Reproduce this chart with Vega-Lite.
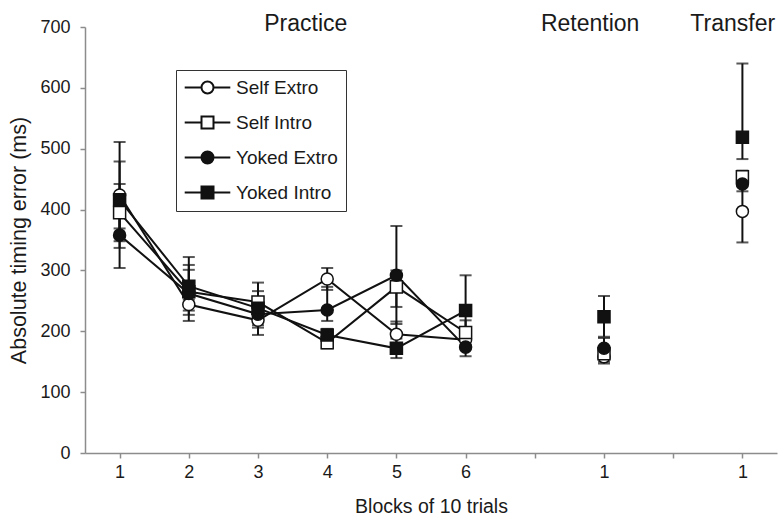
{
  "$schema": "https://vega.github.io/schema/vega-lite/v6.json",
  "autosize": "none",
  "width": 692,
  "height": 426,
  "padding": {"left": 85, "top": 27, "right": 2, "bottom": 63},
  "background": "white",
  "config": {
    "view": {"stroke": null},
    "font": "Liberation Sans",
    "axis": {
      "domainColor": "#8c8c8c",
      "domainWidth": 1.5,
      "tickColor": "#8c8c8c",
      "tickWidth": 1.5,
      "tickSize": 5,
      "grid": false,
      "labelFont": "Liberation Sans",
      "labelFontSize": 18,
      "labelColor": "#1a1a1a",
      "titleFont": "Liberation Sans",
      "titleFontWeight": "normal",
      "titleColor": "#1a1a1a"
    }
  },
  "datasets": {
    "points": [
      {"series": "Self Extro", "x": 1, "mean": 424, "lo": 369, "hi": 479},
      {"series": "Self Extro", "x": 2, "mean": 244, "lo": 217, "hi": 271},
      {"series": "Self Extro", "x": 3, "mean": 218, "lo": 194, "hi": 242},
      {"series": "Self Extro", "x": 4, "mean": 286, "lo": 268, "hi": 304},
      {"series": "Self Extro", "x": 5, "mean": 195, "lo": 175, "hi": 216},
      {"series": "Self Extro", "x": 6, "mean": 186, "lo": 172, "hi": 200},
      {"series": "Self Extro", "x": 8, "mean": 158, "lo": 147, "hi": 169},
      {"series": "Self Extro", "x": 10, "mean": 397, "lo": 346, "hi": 448},
      {"series": "Self Intro", "x": 1, "mean": 395, "lo": 348, "hi": 442},
      {"series": "Self Intro", "x": 2, "mean": 265, "lo": 234, "hi": 309},
      {"series": "Self Intro", "x": 3, "mean": 248, "lo": 216, "hi": 280},
      {"series": "Self Intro", "x": 4, "mean": 181, "lo": 172, "hi": 192},
      {"series": "Self Intro", "x": 5, "mean": 273, "lo": 240, "hi": 300},
      {"series": "Self Intro", "x": 6, "mean": 198, "lo": 178, "hi": 218},
      {"series": "Self Intro", "x": 8, "mean": 163, "lo": 150, "hi": 176},
      {"series": "Self Intro", "x": 10, "mean": 454, "lo": 444, "hi": 464},
      {"series": "Yoked Extro", "x": 1, "mean": 358, "lo": 304, "hi": 412},
      {"series": "Yoked Extro", "x": 2, "mean": 262, "lo": 227, "hi": 301},
      {"series": "Yoked Extro", "x": 3, "mean": 228, "lo": 206, "hi": 250},
      {"series": "Yoked Extro", "x": 4, "mean": 235, "lo": 217, "hi": 273},
      {"series": "Yoked Extro", "x": 5, "mean": 292, "lo": 212, "hi": 373},
      {"series": "Yoked Extro", "x": 6, "mean": 174, "lo": 159, "hi": 189},
      {"series": "Yoked Extro", "x": 8, "mean": 172, "lo": 155, "hi": 189},
      {"series": "Yoked Extro", "x": 10, "mean": 442, "lo": 430, "hi": 454},
      {"series": "Yoked Intro", "x": 1, "mean": 416, "lo": 337, "hi": 511},
      {"series": "Yoked Intro", "x": 2, "mean": 274, "lo": 252, "hi": 322},
      {"series": "Yoked Intro", "x": 3, "mean": 238, "lo": 210, "hi": 266},
      {"series": "Yoked Intro", "x": 4, "mean": 194, "lo": 184, "hi": 204},
      {"series": "Yoked Intro", "x": 5, "mean": 172, "lo": 156, "hi": 188},
      {"series": "Yoked Intro", "x": 6, "mean": 234, "lo": 176, "hi": 292},
      {"series": "Yoked Intro", "x": 8, "mean": 224, "lo": 191, "hi": 258},
      {"series": "Yoked Intro", "x": 10, "mean": 519, "lo": 483, "hi": 640}
    ],
    "headers": [
      {"label": "Practice", "x": 3.69},
      {"label": "Retention", "x": 7.8},
      {"label": "Transfer", "x": 9.86}
    ]
  },
  "data": {"name": "points"},
  "layer": [
    {
      "transform": [{"filter": "datum.x <= 6"}],
      "mark": {"type": "line", "color": "#111", "strokeWidth": 2},
      "encoding": {
        "x": {
          "field": "x", "type": "quantitative",
          "scale": {"domain": [0.5, 10.5], "nice": false, "zero": false},
          "axis": {
            "values": [1, 2, 3, 4, 5, 6, 7, 8, 9, 10],
            "format": "d",
            "labelExpr": "datum.value <= 6 ? datum.label : (datum.value == 8 || datum.value == 10 ? '1' : '')",
            "title": "Blocks of 10 trials",
            "titleFontSize": 19.5,
            "labelPadding": 5,
            "titlePadding": 16
          }
        },
        "y": {
          "field": "mean", "type": "quantitative",
          "scale": {"domain": [0, 700], "nice": false},
          "axis": {
            "values": [0, 100, 200, 300, 400, 500, 600, 700],
            "title": "Absolute timing error (ms)",
            "titleFontSize": 21.5,
            "labelPadding": 10,
            "titlePadding": 9
          }
        },
        "detail": {"field": "series"}
      }
    },
    {
      "mark": {"type": "rule", "color": "#111", "strokeWidth": 2},
      "encoding": {
        "x": {"field": "x", "type": "quantitative"},
        "y": {"field": "lo", "type": "quantitative"},
        "y2": {"field": "hi"}
      }
    },
    {
      "mark": {"type": "tick", "orient": "horizontal", "color": "#111", "size": 12, "thickness": 2},
      "encoding": {
        "x": {"field": "x", "type": "quantitative"},
        "y": {"field": "lo", "type": "quantitative"}
      }
    },
    {
      "mark": {"type": "tick", "orient": "horizontal", "color": "#111", "size": 12, "thickness": 2},
      "encoding": {
        "x": {"field": "x", "type": "quantitative"},
        "y": {"field": "hi", "type": "quantitative"}
      }
    },
    {
      "mark": {"type": "point", "filled": true, "stroke": "#111", "strokeWidth": 1.5, "size": 145, "opacity": 1},
      "encoding": {
        "x": {"field": "x", "type": "quantitative"},
        "y": {"field": "mean", "type": "quantitative"},
        "shape": {
          "field": "series", "type": "nominal",
          "scale": {"domain": ["Self Extro", "Self Intro", "Yoked Extro", "Yoked Intro"], "range": ["circle", "square", "circle", "square"]},
          "legend": null
        },
        "fill": {
          "field": "series", "type": "nominal",
          "scale": {"domain": ["Self Extro", "Self Intro", "Yoked Extro", "Yoked Intro"], "range": ["white", "white", "#111", "#111"]},
          "legend": null
        }
      }
    },
    {
      "transform": [{"filter": "false"}],
      "mark": {"type": "point", "filled": true, "strokeWidth": 2, "size": 144, "opacity": 1},
      "encoding": {
        "x": {"field": "x", "type": "quantitative"},
        "y": {"field": "mean", "type": "quantitative"},
        "shape": {
          "field": "series", "type": "nominal",
          "scale": {
            "domain": ["Self Extro", "Self Intro", "Yoked Extro", "Yoked Intro"],
            "range": [
              "M-3.8,0H-1M1,0H3.8M-1,0A1,1 0 1,0 1,0A1,1 0 1,0 -1,0Z",
              "M-3.8,0H-1M1,0H3.8M-1,-1H1V1H-1Z",
              "M-3.8,0H-1M1,0H3.8M-1,0A1,1 0 1,0 1,0A1,1 0 1,0 -1,0Z",
              "M-3.8,0H-1M1,0H3.8M-1,-1H1V1H-1Z"
            ]
          },
          "legend": {
            "title": null,
            "orient": "none",
            "legendX": 91,
            "legendY": 43,
            "padding": 8,
            "strokeColor": "#333",
            "fillColor": "white",
            "symbolOffset": 14,
            "symbolSize": 144,
            "symbolStrokeWidth": 2,
            "symbolOpacity": 1,
            "labelOffset": 19,
            "labelFont": "Liberation Sans",
            "labelFontSize": 19,
            "labelColor": "#1a1a1a",
            "rowPadding": 14
          }
        },
        "fill": {
          "field": "series", "type": "nominal",
          "scale": {"domain": ["Self Extro", "Self Intro", "Yoked Extro", "Yoked Intro"], "range": ["white", "white", "#111", "#111"]}
        },
        "stroke": {
          "field": "series", "type": "nominal",
          "scale": {"domain": ["Self Extro", "Self Intro", "Yoked Extro", "Yoked Intro"], "range": ["#111", "#111", "#111", "#111"]}
        }
      }
    },
    {
      "data": {"name": "headers"},
      "mark": {"type": "text", "font": "Liberation Sans", "fontSize": 23, "color": "#1a1a1a", "baseline": "alphabetic", "dy": 4},
      "encoding": {
        "x": {"field": "x", "type": "quantitative"},
        "y": {"datum": 700, "type": "quantitative"},
        "text": {"field": "label"}
      }
    }
  ],
  "resolve": {
    "scale": {"shape": "independent", "fill": "independent", "stroke": "independent"},
    "legend": {"shape": "independent", "fill": "independent", "stroke": "independent"}
  }
}
